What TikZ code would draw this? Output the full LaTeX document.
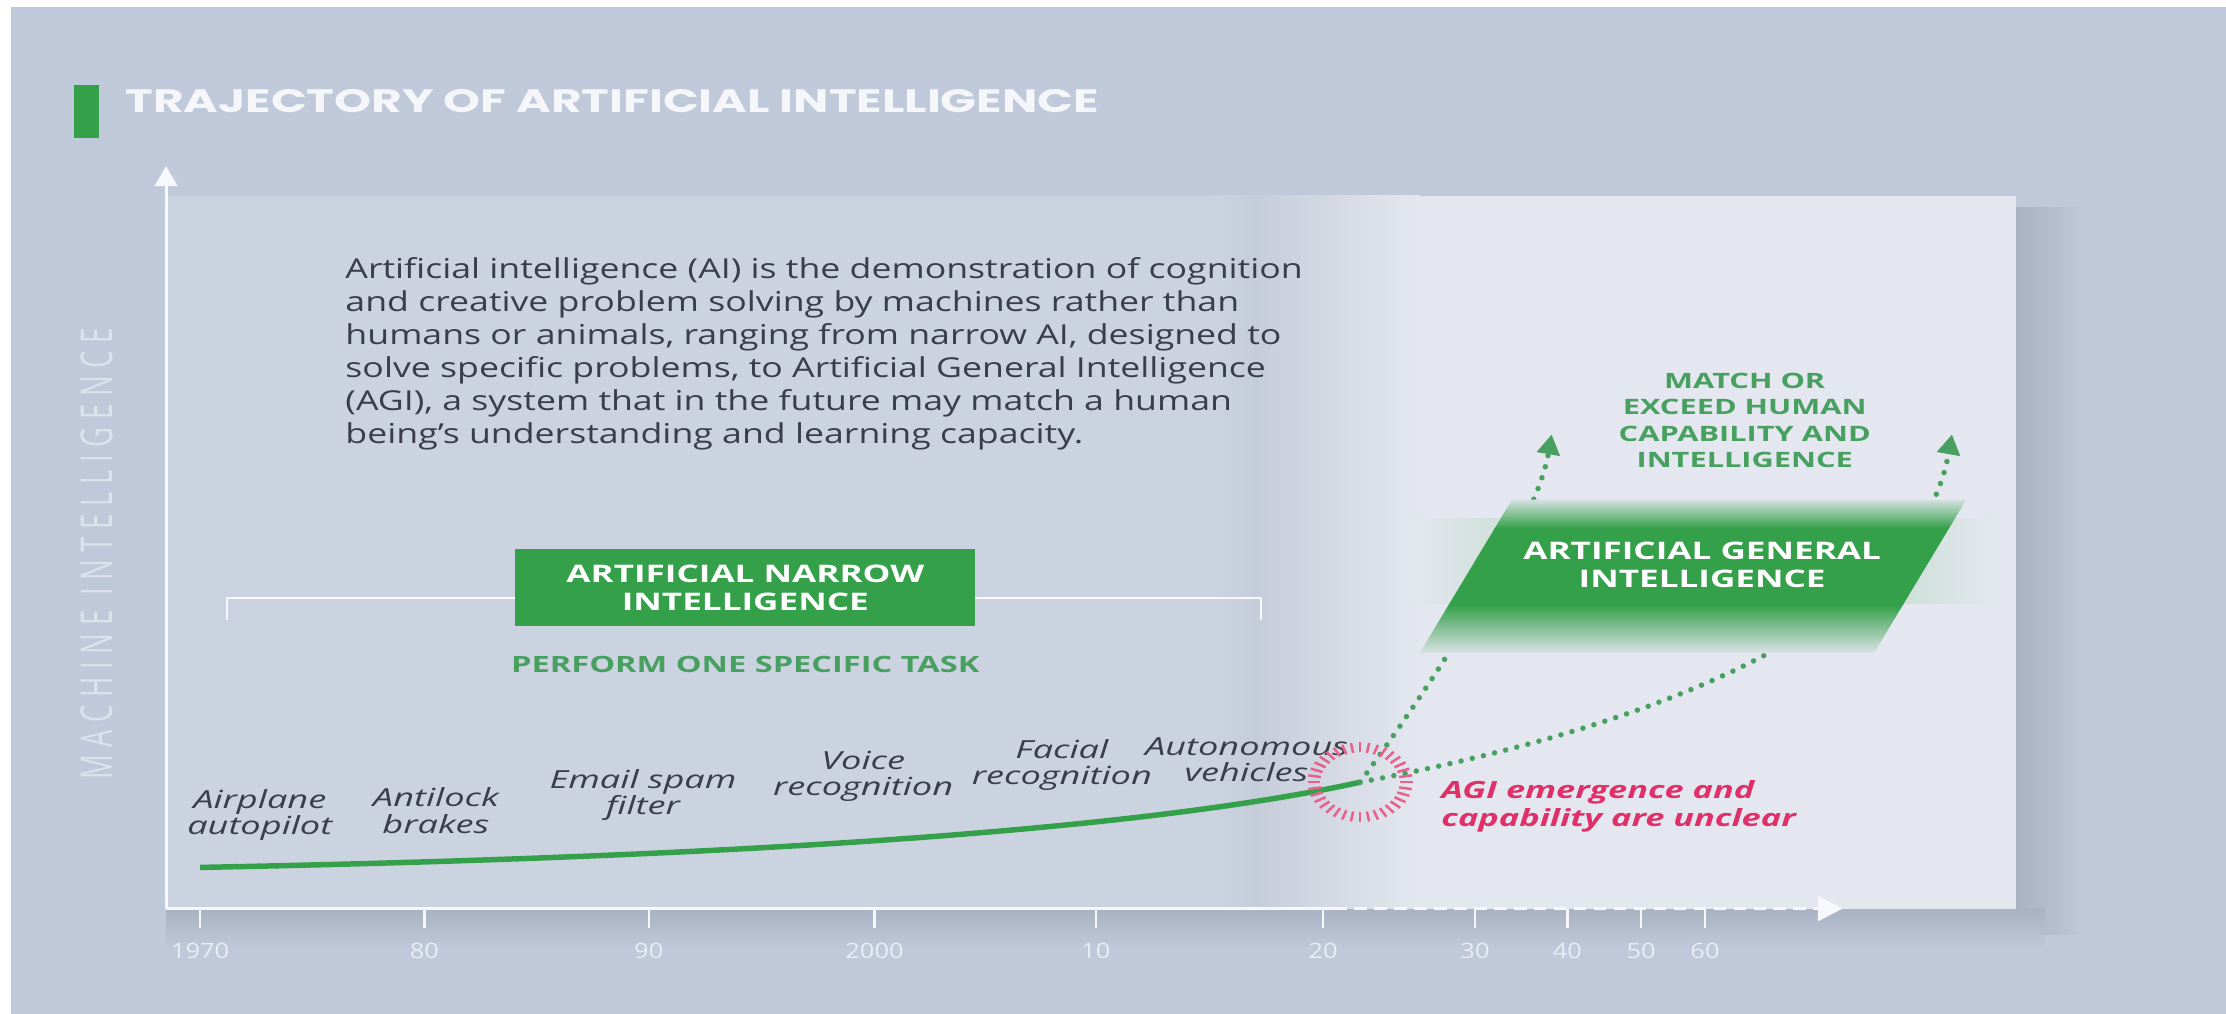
\documentclass[tikz,border=0pt]{standalone}
\usepackage{graphicx}
\usepackage{fontspec}
\setmainfont{Open Sans}[FakeStretch=1.3]
\newfontfamily\titlefont{Poppins}[FakeStretch=1.45]
\newfontfamily\widefont{Open Sans}[FakeStretch=1.45]
\newfontfamily\yearfont{Open Sans}[FakeStretch=1.2]
\newfontfamily\axisfont{Open Sans}[LetterSpace=28]
\usetikzlibrary{positioning,calc,arrows.meta}
\definecolor{bgblue}{HTML}{BFC9DA}
\definecolor{panelL}{HTML}{CCD3E0}
\definecolor{panelD}{HTML}{C6CDDA}
\definecolor{panelR}{HTML}{E4E7EF}
\definecolor{shadowc}{HTML}{A9B1C2}
\definecolor{axisw}{HTML}{F7F8FB}
\definecolor{titlew}{HTML}{F4F6F9}
\definecolor{labelw}{HTML}{DCE2EC}
\definecolor{aigreen}{HTML}{34A04A}
\definecolor{bandgreen}{HTML}{9CCFA5}
\definecolor{softgreen}{HTML}{48A060}
\definecolor{inkgray}{HTML}{3A3E49}
\definecolor{ticklab}{HTML}{E9EDF3}
\definecolor{alertred}{HTML}{E0306A}
\definecolor{ringred}{HTML}{E8608C}

\begin{document}
\begin{tikzpicture}[x=0.02cm,y=-0.02cm,
  note/.style={font=\widefont\fontsize{10}{10.5}\selectfont\itshape,text=inkgray,align=center,inner sep=0pt},
  yearlab/.style={font=\yearfont\fontsize{8.5}{10}\selectfont,text=ticklab,inner sep=0pt},
  boxlabel/.style={font=\widefont\fontsize{9.7}{11}\selectfont\bfseries,align=center,inner sep=0pt},
  agidots/.style={softgreen,line width=2.2pt,line cap=round,dash pattern=on 0pt off 4.6pt,-{Triangle[width=9pt,length=8pt]}},
  axisline/.style={axisw,line width=1.2pt}]
%background
\fill[bgblue] (0,0) rectangle (1568,714);
\fill[white] (0,0) rectangle (1568,5);
\fill[white] (0,0) rectangle (8,714);
\useasboundingbox (0,0) rectangle (1568,714);
%title
\fill[aigreen] (52,60) rectangle (70,97);
\node[anchor=west,inner sep=0pt,font=\titlefont\fontsize{13}{14}\selectfont\bfseries,text=titlew] (title) at (88,71) {TRAJECTORY OF ARTIFICIAL INTELLIGENCE};
%shadow of the panel
\shade[left color=shadowc,right color=bgblue] (1420,146) rectangle (1468,658);
\shade[top color=shadowc,bottom color=bgblue] (117,640) rectangle (1440,668);
%panel
\fill[panelL] (117,138) rectangle (855,640);
\shade[left color=panelL,right color=panelD] (855,138) rectangle (885,640);
\shade[left color=panelD,right color=panelR] (885,138) rectangle (1000,640);
\fill[panelR] (1000,138) rectangle (1420,640);
%axes
\coordinate (orig) at (117,640);
\coordinate (ytop) at (117,117);
\coordinate (xmid) at (940,640);
\coordinate (xend) at (1298,640);
\draw[axisline,-{Triangle[width=9pt,length=8pt]}] (orig) -- (ytop);
\draw[axisline] (orig) -- (xmid);
\draw[axisline,dash pattern=on 5pt off 3pt,-{Triangle[width=10pt,length=10pt]}] (xmid) -- (xend);
%years
\foreach \x/\yr in {141/1970,299/80,457/90,616/2000,772/10,932/20,1039/30,1104/40,1156/50,1201/60}{
  \draw[axisline,line width=1pt] (\x,640) -- (\x,654);
  \node[yearlab] (yr\yr) at (\x,670) {\yr};
}
\node[rotate=90,font=\axisfont\fontsize{11}{12}\selectfont,text=labelw] (ylab) at (68,390) {\scalebox{1}[1.6]{MACHINE INTELLIGENCE}};
%text
\node[anchor=north west,align=left,inner sep=0pt,font=\fontsize{11}{13.2}\selectfont,text=inkgray] (intro) at (243,181) {Artificial intelligence (AI) is the demonstration of cognition\\
and creative problem solving by machines rather than\\
humans or animals, ranging from narrow AI, designed to\\
solve specific problems, to Artificial General Intelligence\\
(AGI), a system that in the future may match a human\\
being’s understanding and learning capacity.};
%narrow ai
\coordinate (brL) at (160,437);
\coordinate (brR) at (888,437);
\draw[axisline,line width=0.9pt] (brL) -- ++(0,-16) -| (brR);
\node[boxlabel,fill=aigreen,text=white,minimum width=6.48cm,minimum height=1.08cm] (ani) at (525,414) {ARTIFICIAL NARROW\\INTELLIGENCE};
\node[boxlabel,font=\widefont\fontsize{9}{11}\selectfont\bfseries,text=softgreen] (task) at (525,468) {PERFORM ONE SPECIFIC TASK};
%milestones
\node[note] (autopilot) at (183,574) {Airplane\\autopilot};
\node[note] (brakes) at (307,571) {Antilock\\brakes};
\node[note] (spam) at (453,560) {Email spam\\filter};
\node[note] (voice) at (608,547) {Voice\\recognition};
\node[note] (face) at (748,539) {Facial\\recognition};
\node[note] (cars) at (878,535) {Autonomous\\vehicles};
%growth curve
\coordinate (start) at (141,611);
\coordinate (agi) at (958,551);
\draw[aigreen,line width=2.2pt] (start) .. controls (450,605) and (780,590) .. (agi);
%possible futures
\coordinate (tipL) at (1093,306);
\coordinate (tipR) at (1375,306);
\draw[agidots] (agi) .. controls (1010,480) and (1082,370) .. (tipL);
\draw[agidots] (agi) .. controls (1150,515) and (1350,445) .. (tipR);
%general ai band
\shade[left color=panelR,right color=panelR,middle color=bandgreen] (995,365) rectangle (1405,425);
\begin{scope}
\clip (1065,352) -- (1385,352) -- (1320,460) -- (1000,460) -- cycle;
\shade[top color=panelR,bottom color=aigreen] (990,350) rectangle (1390,372);
\fill[aigreen] (990,372) rectangle (1390,426);
\shade[top color=aigreen,bottom color=panelR] (990,426) rectangle (1390,462);
\end{scope}
\node[boxlabel,text=white] (agiband) at (1199,398) {ARTIFICIAL GENERAL\\INTELLIGENCE};
\node[boxlabel,font=\widefont\fontsize{8.5}{10.6}\selectfont\bfseries,text=softgreen] (match) at (1229,296) {MATCH OR\\EXCEED HUMAN\\CAPABILITY AND\\INTELLIGENCE};
%uncertainty ring
\foreach \a in {0,10,...,350}
  \draw[ringred,line width=1pt,shift={(agi)}] (\a:28 and 21) -- (\a:37 and 28);
\node[anchor=west,align=left,inner sep=0pt,font=\widefont\fontsize{9.5}{11.4}\selectfont\bfseries\itshape,text=alertred] (unclear) at (1015,568) {AGI emergence and\\capability are unclear};
\end{tikzpicture}
\end{document}
